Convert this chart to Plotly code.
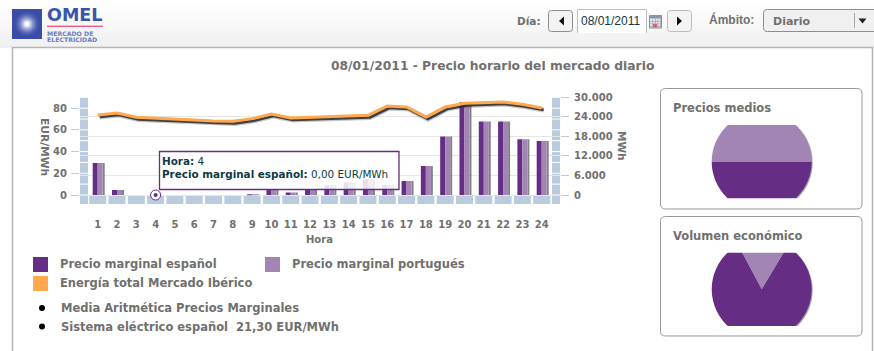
import plotly.graph_objects as go

W, H = 874, 351

# ---- data ----
hours = list(range(1, 25))
precio_es = [29.5, 4.6, 0, 0, 0, 0, 0, 0, 0.6, 5.0, 2.2, 5.0, 9.2, 11.4, 14.4, 9.2, 12.9, 26.7, 53.8, 85.4, 67.6, 67.6, 51.3, 49.8]
precio_pt = [29.5, 4.6, 0, 0, 0, 0, 0, 0, 0.6, 5.0, 2.2, 5.0, 9.2, 11.4, 14.4, 9.2, 12.9, 26.7, 53.8, 85.4, 67.6, 67.6, 51.3, 49.8]
energia = [24580, 25190, 23860, 23650, 23240, 23040, 22730, 22630, 23450, 24880, 23650, 23860, 23860, 24200, 24470, 27340, 27030, 23960, 27030, 28160, 28470, 28570, 27850, 26730]
left_ticks = [0, 20, 40, 60, 80]
right_ticks = [0, 6000, 12000, 18000, 24000, 30000]
right_labels = ["0", "6.000", "12.000", "18.000", "24.000", "30.000"]
precios_medios = [21.30, 21.30]
volumen_economico = [83.6, 16.4]
pie_labels = ["Precio marginal español", "Precio marginal portugués"]

# ---- colours ----
DARK, LIGHT, ORANGE = "#662d85", "#a385b5", "#ffa84c"
BAND, GREY, TEAL = "#b9cbdc", "#707070", "#0d3a46"
MONO = "DejaVu Sans"

# ---- pixel geometry helpers (decoration only) ----
def px(x): return x / W
def py(y): return 1 - y / H

shapes, annos = [], []

def rect(x0, y0, x1, y1, fill=None, line=None, lw=1, layer="below"):
    shapes.append(dict(type="rect", xref="paper", yref="paper", x0=px(x0), x1=px(x1), y0=py(y0), y1=py(y1),
                       fillcolor=fill or "rgba(0,0,0,0)", line=dict(color=line or "rgba(0,0,0,0)", width=lw if line else 0), layer=layer))

def circle(cx, cy, r, fill, layer="below"):
    shapes.append(dict(type="circle", xref="paper", yref="paper", x0=px(cx - r), x1=px(cx + r), y0=py(cy + r), y1=py(cy - r),
                       fillcolor=fill, line=dict(width=0), layer=layer))

def rrect(x0, y0, x1, y1, r, fill, line, lw=1, layer="below"):
    p = []
    pts = [("M", x0 + r, y0), ("L", x1 - r, y0), ("Q", x1, y0, x1, y0 + r), ("L", x1, y1 - r), ("Q", x1, y1, x1 - r, y1),
           ("L", x0 + r, y1), ("Q", x0, y1, x0, y1 - r), ("L", x0, y0 + r), ("Q", x0, y0, x0 + r, y0)]
    for t in pts:
        cmd, c = t[0], t[1:]
        p.append(cmd + " " + " ".join(f"{c[i] / W if i % 2 == 0 else 1 - c[i] / H:.5f}" for i in range(len(c))))
    shapes.append(dict(type="path", xref="paper", yref="paper", path=" ".join(p) + " Z", fillcolor=fill,
                       line=dict(color=line, width=lw), layer=layer))

def tri(points, fill):
    d = "M " + " L ".join(f"{px(x):.5f} {py(y):.5f}" for x, y in points) + " Z"
    shapes.append(dict(type="path", xref="paper", yref="paper", path=d, fillcolor=fill, line=dict(width=0), layer="below"))

def text(x, y, s, size=11.5, color=GREY, bold=True, anchor="left", family=MONO, angle=0):
    annos.append(dict(x=px(x), y=py(y), xref="paper", yref="paper", text=s, showarrow=False, xanchor=anchor, yanchor="middle",
                      textangle=angle, font=dict(family=family, size=size, color=color, weight=700 if bold else 400),
                      borderpad=0, borderwidth=0))

# ---- header ----
for i in range(16):
    v = 255 - i
    rect(0, i * 3, W, (i + 1) * 3, fill=f"rgb({v},{v},{v})")
rect(12.5, 47.5, 872.5, 360, fill="#ffffff", line="#b5b5b5", lw=1.5)

# logo
rect(12, 9, 42, 39, fill="#3a4da8")
for i in range(13):
    r = 14 - i
    t = (i / 12) ** 1.8
    c = [int(58 + (255 - 58) * t), int(77 + (255 - 77) * t), int(168 + (255 - 168) * t)]
    circle(27, 24, r, f"rgb({c[0]},{c[1]},{c[2]})")
text(46.5, 15.5, "OMEL", size=17.5, color="#3a54ad")
rect(47, 25.7, 103, 26.7, fill="#d9205f")
text(47, 33, "MERCADO DE", size=6.2, color="#6a7dbd")
text(47, 39, "ELECTRICIDAD", size=6.2, color="#6a7dbd")

# controls
text(517, 21, "Día:", size=10.5)
rrect(548.5, 10.5, 572.5, 31.5, 3, "#f3f3f3", "#8c8c8c")
tri([(564, 16.5), (564, 25.5), (559, 21)], "#111111")
rect(577.5, 9.5, 646.5, 33, fill="#ffffff")
shapes.append(dict(type="path", xref="paper", yref="paper",
                   path=f"M {px(577.5):.5f} {py(33):.5f} L {px(577.5):.5f} {py(9.5):.5f} L {px(646.5):.5f} {py(9.5):.5f} L {px(646.5):.5f} {py(33):.5f}",
                   line=dict(color="#bdbdbd", width=1), layer="below"))
text(581, 21, "08/01/2011", size=12, color=TEAL, bold=False, family="Liberation Sans")
rect(649.5, 15.5, 661.5, 28, fill="#e8ecf2", line="#8a9199")
rect(650, 16, 661, 18.5, fill="#8a97a8")
for gx in (652.5, 655, 657.5, 660):
    rect(gx, 18.5, gx + 0.7, 28, fill="#9aa3ad")
for gy in (21, 23.5, 26):
    rect(650, gy, 661, gy + 0.7, fill="#9aa3ad")
rect(653, 24, 657, 27.5, fill="#e0606a")
rrect(667.5, 10.5, 691.5, 31.5, 3, "#f3f3f3", "#bdbdbd")
tri([(677, 16.5), (677, 25.5), (682, 21)], "#111111")
text(709, 20, "Ámbito:", size=12, family="Liberation Sans")
rrect(763.5, 9.5, 890, 31.5, 4, "#f0f0f0", "#8c8c8c")
text(773, 21, "Diario", size=11)
rect(854, 13, 855, 28, fill="#a8a8a8")
tri([(858.5, 18.5), (866.5, 18.5), (862.5, 23.5)], "#222222")

# title
text(492.5, 66, "08/01/2011 - Precio horario del mercado diario", size=12.3, anchor="center")

# ---- chart geometry ----
X0, X1, Y0, Y1 = 80, 560, 97.3, 204
step = 19.3
x_range = [1 - (97.7 - X0) / step, 24 + (X1 - 541.7) / step]
unit = (195 - 97.3) / 90
y_range = [-(Y1 - 195) / unit, 90]
y2_range = [y_range[0] / 90 * 30000, 30000]

# band along the axes
for h in hours:
    shapes.append(dict(type="rect", xref="x", yref="paper", x0=h - 0.44, x1=h + 0.44, y0=py(204), y1=py(195.5),
                       fillcolor=BAND, line=dict(width=0), layer="below"))
for v in range(-10, 90, 10):
    for a, b in ((80, 88), (552, 560)):
        top = 195 - (v + 10) * unit + 0.5
        bot = min(195 - v * unit - 0.5, 204)
        if v == -10:
            top = 195.5
        rect(a, top, b, bot, fill=BAND)

# ---- traces ----
bar_w = 5 / step
traces = [
    go.Bar(x=hours, y=precio_pt, width=2 / step, offset=bar_w, marker=dict(color="rgba(90,90,90,0.75)", line=dict(width=0)),
           yaxis="y", hoverinfo="skip", showlegend=False),
    go.Bar(x=hours, y=precio_es, width=bar_w, offset=-bar_w, marker=dict(color=DARK, line=dict(width=0)),
           name="Precio marginal español", yaxis="y", hoverinfo="skip"),
    go.Bar(x=hours, y=precio_pt, width=bar_w, offset=0, marker=dict(color=LIGHT, line=dict(width=0)),
           name="Precio marginal portugués", yaxis="y", hoverinfo="skip"),
    go.Scatter(x=[hours[3]], y=[precio_es[3]], mode="markers", yaxis="y", showlegend=False, hoverinfo="skip",
               marker=dict(size=10, color="#ffffff", line=dict(color=DARK, width=1))),
    go.Scatter(x=[hours[3]], y=[precio_es[3]], mode="markers", yaxis="y", showlegend=False, hoverinfo="skip",
               marker=dict(size=4, color=DARK)),
    go.Scatter(x=[h + 2 / step for h in hours], y=[e - 650 for e in energia], mode="lines", yaxis="y2", showlegend=False, hoverinfo="skip",
               line=dict(color="rgba(70,70,70,0.3)", width=5)),
    go.Scatter(x=[h + 2 / step for h in hours], y=[e - 650 for e in energia], mode="lines", yaxis="y2", showlegend=False, hoverinfo="skip",
               line=dict(color="rgba(40,40,40,0.85)", width=2.5)),
    go.Scatter(x=hours, y=energia, mode="lines", yaxis="y2", name="Energía total Mercado Ibérico", hoverinfo="skip",
               line=dict(color=ORANGE, width=3)),
]

# pies
PX, R = 761.7, 50
P1Y, P2Y = 161.7, 289.3
def pie(values, cy, rotation):
    return go.Pie(values=values, labels=pie_labels, sort=False, direction="clockwise", rotation=rotation, textinfo="none",
                  hoverinfo="skip", showlegend=False, marker=dict(colors=[DARK, LIGHT], line=dict(width=0)),
                  domain=dict(x=[px(PX - R), px(PX + R)], y=[py(cy + R), py(cy - R)]))
traces += [pie(precios_medios, P1Y, 90), pie(volumen_economico, P2Y, 31)]

# tooltip
rect(159.5, 151.5, 399, 189.5, fill="rgba(255,255,255,0.85)", line=DARK, lw=1.3, layer="above")
text(162, 161, "<b>Hora:</b> 4", size=10.4, color=TEAL, bold=False)
text(162, 174.5, "<b>Precio marginal español:</b> 0,00 EUR/MWh", size=10.4, color=TEAL, bold=False)

# axis titles
text(45, 147, "EUR/MWh", size=10.7, anchor="center", angle=90)
text(622, 146, "MWh", size=10.5, anchor="center", angle=90)
text(319, 239.5, "Hora", size=10, anchor="center")

# legend
rect(33, 257, 48, 272, fill=DARK)
text(60, 263.5, "Precio marginal español")
rect(265, 257, 280, 272, fill=LIGHT)
text(292, 263.5, "Precio marginal portugués")
rect(33, 276, 48, 291, fill=ORANGE)
text(60, 282.5, "Energía total Mercado Ibérico")
circle(42, 308, 3, "#000000")
text(61, 308, "Media Aritmética Precios Marginales")
circle(42, 326.5, 3, "#000000")
text(61, 327, "Sistema eléctrico español  21,30 EUR/MWh")

# side panels
text(673, 108, "Precios medios")
text(673, 236, "Volumen económico")
circle(PX + 1, P1Y + 1, R, "#a8a8a8")
circle(PX + 1, P2Y + 1, R, "#a8a8a8")
# masks clipping the pies as the reference does; panel outlines stay on top of them
rect(700, 100, 825, 125, fill="#ffffff", layer="above")
rect(700, 198.3, 825, 252.7, fill="#ffffff", layer="above")
rect(700, 326, 825, 345, fill="#ffffff", layer="above")
rrect(660.5, 88.5, 862, 209, 5, "rgba(0,0,0,0)", "#999999", layer="above")
rrect(660.5, 216.5, 862, 336, 5, "rgba(0,0,0,0)", "#999999", layer="above")

tickfont = dict(family=MONO, size=10, color=GREY, weight=700)
fig = go.Figure(traces)
fig.update_layout(
    width=W, height=H, margin=dict(l=0, r=0, t=0, b=0, pad=0, autoexpand=False), paper_bgcolor="#ffffff", plot_bgcolor="rgba(0,0,0,0)",
    barmode="overlay", showlegend=False, shapes=shapes, annotations=annos, hovermode=False,
    xaxis=dict(domain=[px(X0), px(X1)], range=x_range, tickmode="array", tickvals=hours, ticktext=[str(h) for h in hours], automargin=False,
               showgrid=False, zeroline=False, showline=False, ticks="", ticklabelstandoff=13, tickfont=tickfont, tickangle=0),
    yaxis=dict(domain=[py(Y1), py(Y0)], range=y_range, tickmode="array", tickvals=left_ticks, ticktext=[str(v) for v in left_ticks], automargin=False,
               showgrid=False, zeroline=False, showline=False, ticks="outside", ticklen=8, tickcolor=BAND, tickwidth=1,
               ticklabelstandoff=2, tickfont=tickfont),
    yaxis2=dict(domain=[py(Y1), py(Y0)], range=y2_range, overlaying="y", side="right", anchor="x", tickmode="array", tickvals=right_ticks, automargin=False,
                ticktext=right_labels, showgrid=True, gridcolor="#e6e6e6", gridwidth=1, zeroline=False, showline=False, ticks="outside",
                ticklen=8, tickcolor=BAND, tickwidth=1, ticklabelstandoff=3, tickfont=tickfont),
)
fig.write_html("out.html", config=dict(displayModeBar=False),
               post_script="document.body.style.margin='0';document.body.style.overflow='hidden';")
